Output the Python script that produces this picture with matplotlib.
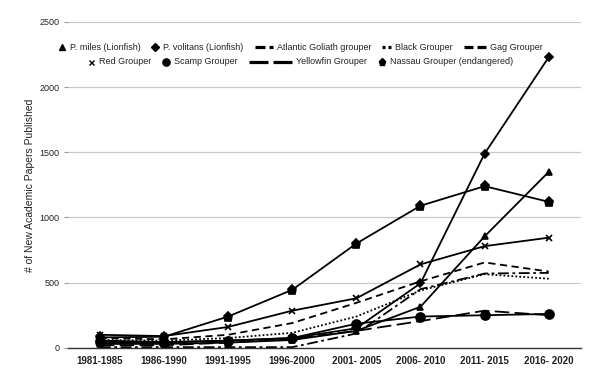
import numpy as np
import matplotlib.pyplot as plt
from matplotlib.lines import Line2D

plt.rcParams['font.family'] = ['Liberation Sans', 'DejaVu Sans']

periods = ['1981-1985', '1986-1990', '1991-1995', '1996-2000',
           '2001- 2005', '2006- 2010', '2011- 2015', '2016- 2020']

p_miles = [30, 30, 40, 60, 130, 315, 855, 1350]
p_volitans = [55, 45, 55, 75, 150, 495, 1490, 2230]
goliath = [5, 5, 5, 5, 110, 450, 570, 575]
black = [60, 55, 75, 115, 240, 440, 565, 530]
gag = [75, 65, 100, 190, 345, 510, 655, 585]
red = [100, 90, 160, 285, 380, 640, 780, 845]
scamp = [45, 40, 55, 75, 185, 240, 250, 260]
yellowfin = [20, 20, 40, 70, 130, 205, 285, 250]
nassau = [80, 85, 240, 445, 800, 1090, 1240, 1120]

names = ['P. miles (Lionfish)', 'P. volitans (Lionfish)', 'Atlantic Goliath grouper',
         'Black Grouper', 'Gag Grouper', 'Red Grouper', 'Scamp Grouper',
         'Yellowfin Grouper', 'Nassau Grouper (endangered)']
series = [p_miles, p_volitans, goliath, black, gag, red, scamp, yellowfin, nassau]

# (linestyle, marker, markersize)
styles = [
    ('-', '^', 5),
    ('-', 'D', 4.5),
    ((0, (6, 2, 1.5, 2)), None, 0),
    ((0, (1, 1.2)), None, 0),
    ((0, (4, 2.5)), None, 0),
    ('-', 'x', 4.5),
    ('-', 'o', 6.5),
    ((0, (8, 3)), None, 0),
    ('-', 'p', 6.5),
]

# legend handle segments in pixels (start, end) for the line-only series
legend_segs = {
    'Atlantic Goliath grouper': [(0, 10), (14, 18)],
    'Black Grouper': [(0, 3), (6, 9)],
    'Gag Grouper': [(0, 9), (13, 22)],
    'Yellowfin Grouper': [(0, 19), (24, 43)],
}

W, H = 600, 372
fig = plt.figure(figsize=(W / 100, H / 100), dpi=100)
ax = fig.add_axes([0.113, 0.065, 0.855, 0.876])

x = np.arange(len(periods))
for vals, (ls, mk, ms) in zip(series, styles):
    ax.plot(x, vals, color='black', linestyle=ls, linewidth=1.3,
            marker=mk, markersize=ms, markeredgewidth=1.2)

ax.set_xlim(-0.5, len(periods) - 0.5)
ax.set_ylim(0, 2500)
ax.set_yticks([0, 500, 1000, 1500, 2000, 2500])
ax.set_xticks(x)
ax.set_xticklabels(periods, fontsize=7, fontweight='bold', color='#222222')
ax.tick_params(axis='y', labelsize=6.5, length=3, color='#999999', labelcolor='#222222', pad=3)
ax.tick_params(axis='x', length=0, pad=6)
ax.yaxis.grid(True, color='#c8c8c8', linewidth=0.9)
ax.set_axisbelow(True)
for s in ['top', 'right', 'left']:
    ax.spines[s].set_visible(False)
ax.spines['bottom'].set_color('#333333')
ax.spines['bottom'].set_linewidth(1.0)

ax.set_ylabel('# of New Academic Papers Published', fontsize=7.5, color='#222222', labelpad=3)

# flowing legend, two centred rows
renderer = fig.canvas.get_renderer()


def legend_row(idx, ypix, cx=300, gap_text=4, gap_item=11):
    items = []
    for i in idx:
        name = names[i]
        mk = styles[i][1]
        hw = 8 if mk is not None else legend_segs[name][-1][1]
        t = fig.text(0, 0, name, fontsize=6.5, color='#222222', va='center')
        tw = t.get_window_extent(renderer).width
        items.append((i, hw, t, tw))
    total = sum(hw + gap_text + tw for _, hw, _, tw in items) + gap_item * (len(items) - 1)
    xp = cx - total / 2
    yf = 1 - ypix / H
    for i, hw, t, tw in items:
        ls, mk, ms = styles[i]
        if mk is not None:
            fig.add_artist(Line2D([(xp + hw / 2) / W], [yf], transform=fig.transFigure,
                                  color='black', linestyle='none', marker=mk,
                                  markersize=ms * 0.8, markeredgewidth=1.0))
        else:
            for a, b in legend_segs[names[i]]:
                fig.add_artist(Line2D([(xp + a) / W, (xp + b) / W], [yf, yf],
                                      transform=fig.transFigure, color='black',
                                      linewidth=2.3, solid_capstyle='butt'))
        t.set_position(((xp + hw + gap_text) / W, yf))
        xp += hw + gap_text + tw + gap_item


legend_row(range(0, 5), 47)
legend_row(range(5, 9), 62)

fig.savefig('out.png', dpi=100)
